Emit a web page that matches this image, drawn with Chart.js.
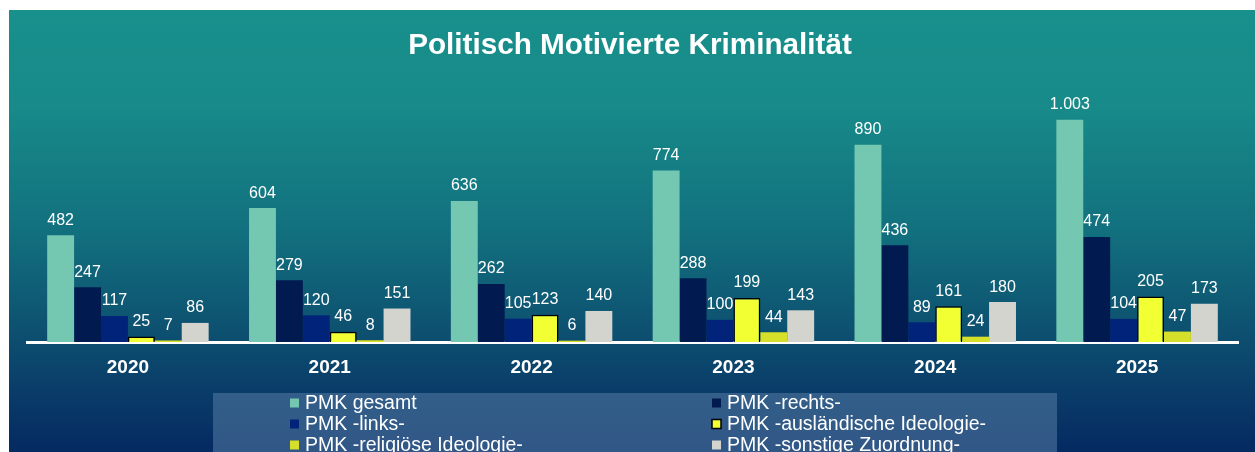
<!DOCTYPE html>
<html lang="de">
<head>
<meta charset="utf-8">
<title>Politisch Motivierte Kriminalität</title>
<script src="https://cdn.jsdelivr.net/npm/chart.js@4/dist/chart.umd.min.js"></script>
<style>
  html, body { margin: 0; padding: 0; background: #ffffff; }
  #wrap { position: relative; width: 1255px; height: 452px; }
</style>
</head>
<body>
<div id="wrap"><canvas id="chart" width="1255" height="452"></canvas></div>
<script>
// Jahre (Kategorien)
const years = ['2020', '2021', '2022', '2023', '2024', '2025'];

// Fallzahlen je Phänomenbereich
const pmkGesamt       = [482, 604, 636, 774, 890, 1003];
const pmkRechts       = [247, 279, 262, 288, 436, 474];
const pmkLinks        = [117, 120, 105, 100, 89, 104];
const pmkAuslaendisch = [25, 46, 123, 199, 161, 205];
const pmkReligioes    = [7, 8, 6, 44, 24, 47];
const pmkSonstige     = [86, 151, 140, 143, 180, 173];

const seriesNames = [
  'PMK gesamt',
  'PMK -rechts-',
  'PMK -links-',
  'PMK -ausländische Ideologie-',
  'PMK -religiöse Ideologie-',
  'PMK -sonstige Zuordnung-'
];

const titleText = 'Politisch Motivierte Kriminalität';

const colors = ['#74C7B1', '#011B50', '#01247A', '#F2FF33', '#D6E02A', '#D4D4CF'];
const borders = [0, 0, 0, 1.5, 0, 0];

const seriesValues = [pmkGesamt, pmkRechts, pmkLinks, pmkAuslaendisch, pmkReligioes, pmkSonstige];

const datasets = seriesValues.map((vals, i) => ({
  label: seriesNames[i],
  data: vals,
  backgroundColor: colors[i],
  borderColor: '#000000',
  borderWidth: borders[i],
  borderSkipped: 'bottom'
}));

const fmt = new Intl.NumberFormat('de-DE');

// Hintergrund mit Farbverlauf
const backgroundPlugin = {
  id: 'bgGradient',
  beforeDraw(chart) {
    const ctx = chart.ctx;
    ctx.save();
    ctx.fillStyle = '#ffffff';
    ctx.fillRect(0, 0, chart.width, chart.height);
    const g = ctx.createLinearGradient(0, 10, 0, chart.height);
    g.addColorStop(0.00, '#18908C');
    g.addColorStop(0.22, '#178A89');
    g.addColorStop(0.50, '#12707E');
    g.addColorStop(0.73, '#0D5070');
    g.addColorStop(0.88, '#093A68');
    g.addColorStop(1.00, '#052A62');
    ctx.fillStyle = g;
    ctx.fillRect(9, 10, chart.width - 9, chart.height - 10);
    ctx.restore();
  }
};

// Titel
const titlePlugin = {
  id: 'titleText',
  afterDraw(chart) {
    const ctx = chart.ctx;
    ctx.save();
    ctx.fillStyle = '#ffffff';
    ctx.font = 'bold 29.7px "Liberation Sans", Arial, sans-serif';
    ctx.textAlign = 'center';
    ctx.textBaseline = 'middle';
    ctx.fillText(titleText, 630, 46);
    ctx.restore();
  }
};

// Werte über den Balken
const valueLabelPlugin = {
  id: 'valueLabels',
  afterDatasetsDraw(chart) {
    const ctx = chart.ctx;
    ctx.save();
    ctx.fillStyle = '#ffffff';
    ctx.font = '16px "Liberation Sans", Arial, sans-serif';
    ctx.textAlign = 'center';
    ctx.textBaseline = 'middle';
    chart.data.datasets.forEach((ds, di) => {
      const meta = chart.getDatasetMeta(di);
      meta.data.forEach((bar, i) => {
        ctx.fillText(fmt.format(ds.data[i]), bar.x, bar.y - 15);
      });
    });
    ctx.restore();
  }
};

// Legende im Kasten unter dem Diagramm
const legendPlugin = {
  id: 'boxLegend',
  afterDraw(chart) {
    const ctx = chart.ctx;
    ctx.save();
    ctx.fillStyle = 'rgba(86,124,164,0.55)';
    ctx.fillRect(213, 393, 844, 70);
    const cols = [290, 712];
    const rows = [403, 424, 445];
    ctx.font = '19.5px "Liberation Sans", Arial, sans-serif';
    ctx.textBaseline = 'middle';
    ctx.textAlign = 'left';
    chart.data.datasets.forEach((ds, k) => {
      const x = cols[k % 2];
      const y = rows[Math.floor(k / 2)];
      ctx.fillStyle = ds.backgroundColor;
      ctx.fillRect(x, y - 4.5, 9, 9);
      if (ds.borderWidth > 0) {
        ctx.strokeStyle = '#000000';
        ctx.lineWidth = 1.5;
        ctx.strokeRect(x, y - 4.5, 9, 9);
      }
      ctx.fillStyle = '#ffffff';
      ctx.fillText(ds.label, x + 15, y + 1);
    });
    ctx.restore();
  }
};

new Chart(document.getElementById('chart'), {
  type: 'bar',
  data: { labels: years, datasets },
  options: {
    responsive: false,
    animation: false,
    events: [],
    layout: { padding: { left: 27, right: 17, top: 76, bottom: 0 } },
    datasets: {
      bar: { categoryPercentage: 0.8, barPercentage: 1.0 }
    },
    plugins: {
      legend: { display: false },
      title: { display: false },
      tooltip: { enabled: false }
    },
    scales: {
      x: {
        grid: { display: false },
        border: { display: true, color: '#ffffff', width: 3 },
        ticks: {
          color: '#ffffff',
          padding: 6,
          font: { family: '"Liberation Sans", Arial, sans-serif', size: 19, weight: 'bold' }
        },
        afterFit(scale) { scale.height = 110; }
      },
      y: {
        display: false,
        min: 0,
        max: 1200
      }
    }
  },
  plugins: [backgroundPlugin, valueLabelPlugin, titlePlugin, legendPlugin]
});
</script>
</body>
</html>
